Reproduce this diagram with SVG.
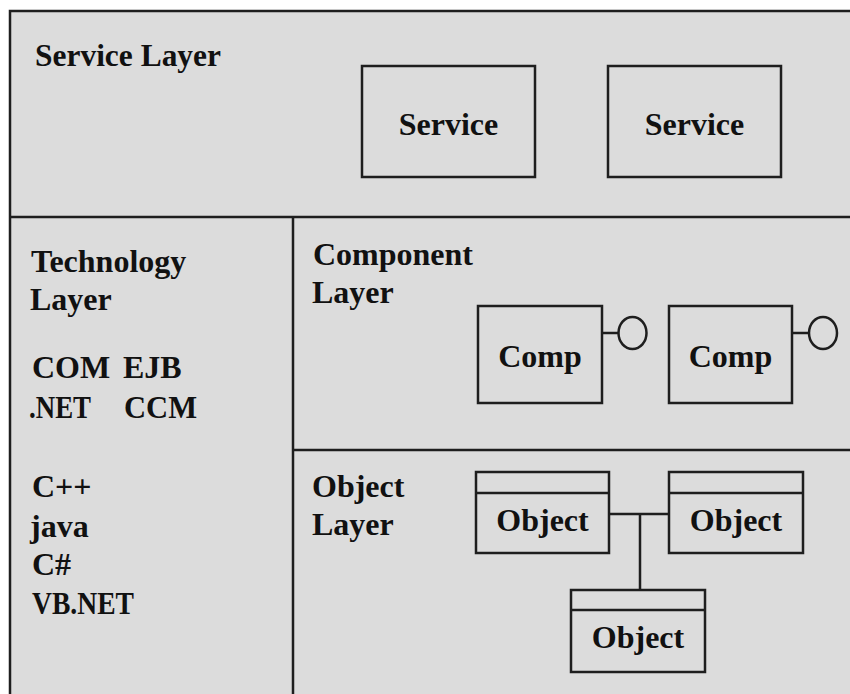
<svg xmlns="http://www.w3.org/2000/svg" width="850" height="694" viewBox="0 0 850 694">
  <style>
    .frame { fill: #dcdcdc; stroke: #1e1e1e; stroke-width: 2.5; }
    .box { fill: #dcdcdc; stroke: #1e1e1e; stroke-width: 2.5; }
    .line { fill: none; stroke: #1e1e1e; stroke-width: 2.5; }
    .lbl { font-family: "Liberation Serif", "Times New Roman", serif; font-weight: bold; font-size: 32px; fill: #111; }
    .mid { text-anchor: middle; }
  </style>
  <rect x="0" y="0" width="850" height="694" fill="#ffffff"/>

  <!-- layer frame -->
  <g id="layers">
    <rect class="frame" x="10" y="11" width="845" height="690"/>
    <line class="line" x1="10" y1="217" x2="850" y2="217"/>
    <line class="line" x1="293" y1="217" x2="293" y2="694"/>
    <line class="line" x1="293" y1="450" x2="850" y2="450"/>
  </g>

  <!-- service layer -->
  <g id="service-layer">
    <text class="lbl" x="35" y="66" textLength="186" lengthAdjust="spacingAndGlyphs">Service Layer</text>
  </g>
  <g id="service-1">
    <rect class="box" x="362" y="66" width="173" height="111"/>
    <text class="lbl mid" x="448.5" y="135">Service</text>
  </g>
  <g id="service-2">
    <rect class="box" x="608" y="66" width="173" height="111"/>
    <text class="lbl mid" x="694.5" y="135">Service</text>
  </g>

  <!-- technology layer -->
  <g id="technology-layer">
    <text class="lbl" x="31" y="272">Technology</text>
    <text class="lbl" x="30" y="310">Layer</text>
    <text class="lbl" x="32" y="378">COM</text>
    <text class="lbl" x="123" y="378">EJB</text>
    <text class="lbl" x="29" y="418" textLength="62" lengthAdjust="spacingAndGlyphs">.NET</text>
    <text class="lbl" x="124" y="418" textLength="73" lengthAdjust="spacingAndGlyphs">CCM</text>
    <text class="lbl" x="32" y="497">C++</text>
    <text class="lbl" x="30" y="537">java</text>
    <text class="lbl" x="32" y="575">C#</text>
    <text class="lbl" x="32" y="614" textLength="102" lengthAdjust="spacingAndGlyphs">VB.NET</text>
  </g>

  <!-- component layer -->
  <g id="component-layer">
    <text class="lbl" x="313" y="265">Component</text>
    <text class="lbl" x="312" y="303">Layer</text>
  </g>
  <g id="comp-1">
    <rect class="box" x="478" y="306" width="124" height="97"/>
    <line class="line" x1="602" y1="333" x2="618.5" y2="333"/>
    <ellipse class="box" cx="632.5" cy="333" rx="14" ry="16"/>
    <text class="lbl mid" x="540" y="367">Comp</text>
  </g>
  <g id="comp-2">
    <rect class="box" x="669" y="306" width="123" height="97"/>
    <line class="line" x1="792" y1="333" x2="809" y2="333"/>
    <ellipse class="box" cx="823" cy="333" rx="14" ry="16"/>
    <text class="lbl mid" x="730.5" y="367">Comp</text>
  </g>

  <!-- object layer -->
  <g id="object-layer">
    <text class="lbl" x="312" y="497">Object</text>
    <text class="lbl" x="312" y="535">Layer</text>
  </g>
  <g id="object-1">
    <rect class="box" x="476" y="472" width="133" height="81"/>
    <line class="line" x1="476" y1="493" x2="609" y2="493"/>
    <text class="lbl mid" x="542.5" y="531">Object</text>
  </g>
  <g id="object-2">
    <rect class="box" x="669" y="472" width="134" height="81"/>
    <line class="line" x1="669" y1="493" x2="803" y2="493"/>
    <text class="lbl mid" x="736" y="531">Object</text>
  </g>
  <g id="object-3">
    <rect class="box" x="571" y="590" width="134" height="82"/>
    <line class="line" x1="571" y1="610" x2="705" y2="610"/>
    <text class="lbl mid" x="638" y="648">Object</text>
  </g>

  <!-- links between objects -->
  <g id="connectors">
    <line class="line" x1="609" y1="514" x2="669" y2="514"/>
    <line class="line" x1="640" y1="514" x2="640" y2="590"/>
  </g>
</svg>
